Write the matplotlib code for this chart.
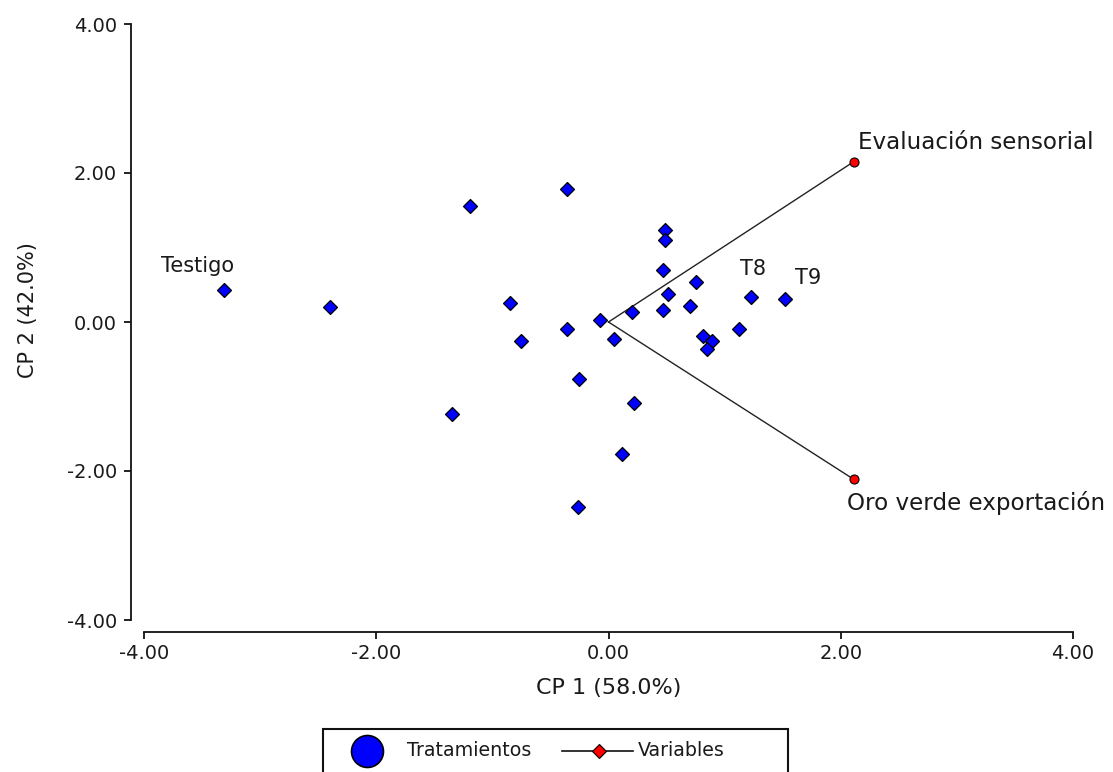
import matplotlib
matplotlib.use("Agg")
import matplotlib.pyplot as plt
from matplotlib.lines import Line2D
from matplotlib.patches import Rectangle

plt.rcParams['font.family'] = ['DejaVu Sans']
plt.rcParams['axes.unicode_minus'] = False

# ---- data ----
trat_x = [-3.31, -2.40, -1.19, -0.36, -0.85, -0.75, -0.36, -0.07, 0.05, 0.20,
          -0.25, -1.35, 0.22, 0.12, -0.26, 0.49, 0.49, 0.47, 0.51, 0.47,
          0.75, 0.70, 1.23, 1.52, 1.12, 0.81, 0.89, 0.85]
trat_y = [0.43, 0.20, 1.56, 1.79, 0.26, -0.25, -0.10, 0.03, -0.23, 0.13,
          -0.76, -1.24, -1.09, -1.77, -2.48, 1.23, 1.10, 0.70, 0.38, 0.16,
          0.54, 0.21, 0.34, 0.31, -0.10, -0.19, -0.25, -0.36]
trat_labels = {0: "Testigo", 22: "T8", 23: "T9"}
trat_label_offsets = {0: (-19, 17), 22: (1, 20), 23: (17, 15)}

var_names = ["Evaluación sensorial", "Oro verde exportación"]
var_x = [2.11, 2.11]
var_y = [2.15, -2.11]
var_label_offsets = [(3, 14), (-5, -17)]

xticks = [-4, -2, 0, 2, 4]
yticks = [-4, -2, 0, 2, 4]
xlabel = "CP 1 (58.0%)"
ylabel = "CP 2 (42.0%)"
legend_labels = ["Tratamientos", "Variables"]

W, H = 1113, 772
fig = plt.figure(figsize=(W / 100, H / 100), dpi=100)
ax = fig.add_axes([144 / W, (H - 620) / H, 929 / W, 596 / H])
ax.set_xlim(-4, 4)
ax.set_ylim(-4, 4)

txtcol = '#1a1a1a'

# variable vectors
for vx, vy in zip(var_x, var_y):
    ax.plot([0, vx], [0, vy], color='#222222', lw=1.0, zorder=2)
ax.plot(var_x, var_y, linestyle='none', marker='o', ms=6.5, mfc='red',
        mec='black', mew=0.8, zorder=4)
for name, vx, vy, off in zip(var_names, var_x, var_y, var_label_offsets):
    ax.annotate(name, (vx, vy), xytext=off, textcoords='offset points',
                ha='left', va='center', fontsize=16.6, color=txtcol, zorder=5)

# treatments
ax.plot(trat_x, trat_y, linestyle='none', marker='D', ms=7.2, mfc='#0000ff',
        mec='black', mew=0.9, zorder=3)
for i, lab in trat_labels.items():
    ax.annotate(lab, (trat_x[i], trat_y[i]), xytext=trat_label_offsets[i],
                textcoords='offset points', ha='center', va='center',
                fontsize=15, color=txtcol, zorder=5)

# axes styling
for s in ['top', 'right']:
    ax.spines[s].set_visible(False)
ax.spines['left'].set_position(('outward', 9.4))
ax.spines['bottom'].set_position(('outward', 8.6))
ax.spines['left'].set_bounds(-4, 4)
ax.spines['bottom'].set_bounds(-4, 4)
for s in ['left', 'bottom']:
    ax.spines[s].set_linewidth(1.3)
    ax.spines[s].set_color('#111111')
ax.set_xticks(xticks)
ax.set_yticks(yticks)
ax.set_xticklabels([f"{v:.2f}" for v in xticks])
ax.set_yticklabels([f"{v:.2f}" for v in yticks])
ax.tick_params(axis='both', direction='out', length=5, width=1.3,
               color='#111111', labelsize=14, labelcolor=txtcol)
ax.tick_params(axis='y', pad=5)
ax.tick_params(axis='x', pad=4)

ax.set_xlabel(xlabel, fontsize=16, color=txtcol)
ax.xaxis.set_label_coords(0.5, -0.098)
ax.set_ylabel(ylabel, fontsize=15, color=txtcol)
ax.yaxis.set_label_coords(-0.114, 0.52)

# legend (drawn in figure pixel coordinates)
def fx(px):
    return px / W

def fy(py):
    return 1 - py / H

fig.add_artist(Rectangle((fx(323), fy(729 + 60)), 465 / W, 60 / H,
                         transform=fig.transFigure, fill=False,
                         edgecolor='#111111', lw=1.5))
fig.add_artist(Line2D([fx(367)], [fy(751)], transform=fig.transFigure,
                      marker='o', ms=23, mfc='#0000ff', mec='black', mew=1.2,
                      linestyle='none'))
fig.text(fx(407), fy(751), legend_labels[0], ha='left', va='center',
         fontsize=13.7, color=txtcol)
fig.add_artist(Line2D([fx(562), fx(633)], [fy(751), fy(751)],
                      transform=fig.transFigure, color='#111111', lw=1.2))
fig.add_artist(Line2D([fx(599)], [fy(751)], transform=fig.transFigure,
                      marker='D', ms=7, mfc='red', mec='black', mew=0.8,
                      linestyle='none'))
fig.text(fx(638), fy(751), legend_labels[1], ha='left', va='center',
         fontsize=13.7, color=txtcol)

fig.savefig("out.png", dpi=100)
